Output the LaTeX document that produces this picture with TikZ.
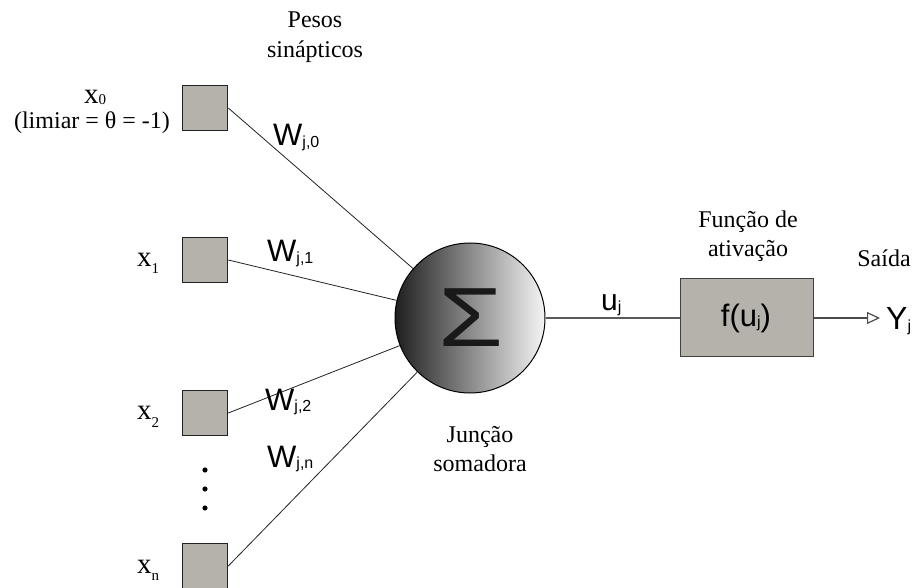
\documentclass[tikz,border=0pt]{standalone}
\usepackage{fontspec}
\setmainfont{Liberation Serif}
\setsansfont{Liberation Sans}
\usetikzlibrary{arrows.meta,calc}
\newcommand{\xsub}[2]{\raisebox{-#2pt}{\fontsize{15}{15}\selectfont #1}}
\newcommand{\sanssub}[1]{\raisebox{-1.5pt}{\fontsize{16}{16}\selectfont #1}}
\definecolor{boxgray}{HTML}{B5B1AB}
\definecolor{edgegray}{HTML}{222222}
\begin{document}
\begin{tikzpicture}[x=1pt,y=-1pt,
  inbox/.style={draw=edgegray,line width=1.6pt,fill=boxgray,minimum size=45pt,inner sep=0pt},
  serif/.style={font=\fontsize{24}{29.5}\selectfont,align=center,inner sep=0pt},
  xlbl/.style={font=\fontsize{29}{29}\selectfont,inner sep=0pt,anchor=base west},
  sanslbl/.style={font=\sffamily\fontsize{31}{31}\selectfont,inner sep=0pt,anchor=base west},
  wire/.style={draw=edgegray,line width=0.8pt}]
\useasboundingbox (0,0) rectangle (914,588);
% input boxes
\node[inbox] (b0) at (205,108) {};
\node[inbox] (b1) at (205,260) {};
\node[inbox] (b2) at (205,413) {};
\node[inbox] (bn) at (205,566) {};
% summing junction
\node[circle,draw=black,line width=1pt,minimum size=150pt,inner sep=0pt,
      left color=black!88,right color=white!96!black] (sum) at (470,318) {};
\node[font=\sffamily\fontsize{84}{84}\selectfont,text=black!90,inner sep=0pt] (sig) at (471,318) {\scalebox{1.25}[1]{Σ}};
% activation box
\node[draw=black!75,line width=1pt,fill=boxgray,minimum width=133pt,minimum height=78pt,inner sep=0pt] (act) at (746.5,318) {};
\node[font=\sffamily\fontsize{31}{31}\selectfont,inner sep=0pt] (fu) at (746,318) {f(u\sanssub{j})};
% connections
\draw[wire] (b0.east) -- (sum);
\draw[wire] (b1.east) -- (sum);
\draw[wire] (b2.east) -- (sum);
\draw[wire] (bn.east) -- (sum);
\draw[draw=black!65,line width=1.3pt] (sum.east) -- (act.west);
\coordinate (outend) at (880,318);
\draw[draw=black!70,line width=1.2pt,-{Triangle[open,length=13pt,width=12pt]}] (act.east) -- (outend);
% dots
\foreach \yy/\nm in {470/d1,489/d2,508/d3} \fill (205,\yy) circle (2.6pt) coordinate (\nm);
% serif labels
\node[serif] (pesos) at (315,37) {Pesos\\sinápticos};
\node[xlbl] (x0) at (84,104) {x\xsub{0}{1}};
\node[serif,anchor=base] (lim) at (92,129) {(limiar = θ = -1)};
\node[xlbl] (x1) at (137,267) {x\xsub{1}{7}};
\node[xlbl] (x2) at (137,420) {x\xsub{2}{7}};
\node[xlbl] (xn) at (137,573) {x\xsub{n}{7}};
\node[serif] (junc) at (480,449) {Junção\\somadora};
\node[serif] (fact) at (748,236) {Função de\\ativação};
\node[serif,anchor=base] (said) at (884,267) {Saída};
% sans labels
\node[sanslbl] (w0) at (273,146) {W\sanssub{j,0}};
\node[sanslbl] (w1) at (267,262) {W\sanssub{j,1}};
\node[sanslbl] (w2) at (265,410) {W\sanssub{j,2}};
\node[sanslbl] (wn) at (267,467) {W\sanssub{j,n}};
\node[sanslbl,font=\sffamily\fontsize{30}{30}\selectfont] (uj) at (601,311) {u\sanssub{j}};
\node[sanslbl,font=\sffamily\fontsize{32}{32}\selectfont] (yj) at (886,330) {Y\sanssub{j}};
\end{tikzpicture}
\end{document}
